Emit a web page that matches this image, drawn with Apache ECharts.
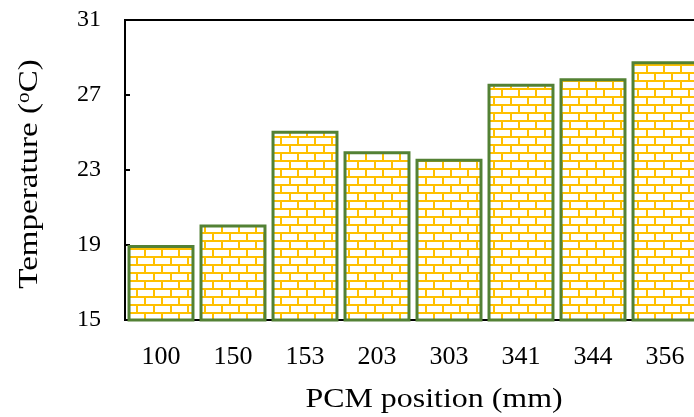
<!DOCTYPE html>
<html><head><meta charset="utf-8">
<script src="https://cdn.jsdelivr.net/npm/echarts@6/dist/echarts.min.js"></script>
<style>html,body{margin:0;padding:0;background:#fff}#c{width:694px;height:417px}</style>
</head><body><div id="c"></div>
<script>
const categories = ['100','150','153','203','303','341','344','356'];
const temperatures = [19.0, 20.1, 25.1, 24.0, 23.6, 27.6, 27.9, 28.8];
const yTicks = {min: 15, max: 31, interval: 4};
const xTitle = 'PCM position (mm)';
const yTitle = ['Temperature (', 'o', 'C)'];

function brickPattern(){
  const c = document.createElement('canvas');
  c.width = 34; c.height = 16;
  const g = c.getContext('2d');
  g.fillStyle = '#ffffff'; g.fillRect(0,0,34,16);
  g.fillStyle = '#FFC000';
  g.fillRect(0,0,34,2);
  g.fillRect(0,8,34,2);
  g.fillRect(0,0,2,8); g.fillRect(17,0,2,8);
  g.fillRect(8,8,2,8); g.fillRect(25,8,2,8);
  return c;
}
const chart = echarts.init(document.getElementById('c'));
const font = '"Liberation Serif", "Times New Roman", serif';
chart.setOption({
  animation:false,
  grid:{left:125, top:20, width:576, height:300, outerBoundsMode:'none', containLabel:false,
    show:true, borderColor:'#000', borderWidth:2, backgroundColor:'transparent'},
  xAxis:{type:'category', data:categories,
    axisLine:{lineStyle:{color:'#000', width:2}},
    axisTick:{inside:true, length:5, lineStyle:{color:'#000', width:2}},
    axisLabel:{color:'#000', fontFamily:font, fontSize:26, margin:24}
  },
  yAxis:{type:'value', min:yTicks.min, max:yTicks.max, interval:yTicks.interval,
    splitLine:{show:false},
    axisLine:{show:true, lineStyle:{color:'#000', width:2}},
    axisTick:{show:true, inside:true, length:5, lineStyle:{color:'#000', width:2}},
    axisLabel:{color:'#000', fontFamily:font, fontSize:24, margin:24}
  },
  graphic:[
    {type:'text', x:434, y:400, scaleX:1.14, silent:true,
      style:{text:xTitle, x:0, y:0, align:'center', verticalAlign:'middle', fill:'#000', font:'28px ' + font}},
    {type:'text', x:30, y:174, rotation:Math.PI/2, scaleX:1.18, silent:true,
      style:{text:'{a|' + yTitle[0] + '}{s|' + yTitle[1] + '}{a|' + yTitle[2] + '}', x:0, y:0, align:'center', verticalAlign:'middle',
        rich:{
          a:{fill:'#000', fontFamily:font, fontSize:28},
          s:{fill:'#000', fontFamily:font, fontSize:18, verticalAlign:'top', padding:[0,0,12,0]}
        }}}
  ],
  series:[{type:'bar', data:temperatures, barCategoryGap:'7%',
    itemStyle:{color:{image:brickPattern(), repeat:'repeat'}, borderColor:'#538135', borderWidth:3}
  }]
});
</script></body></html>
